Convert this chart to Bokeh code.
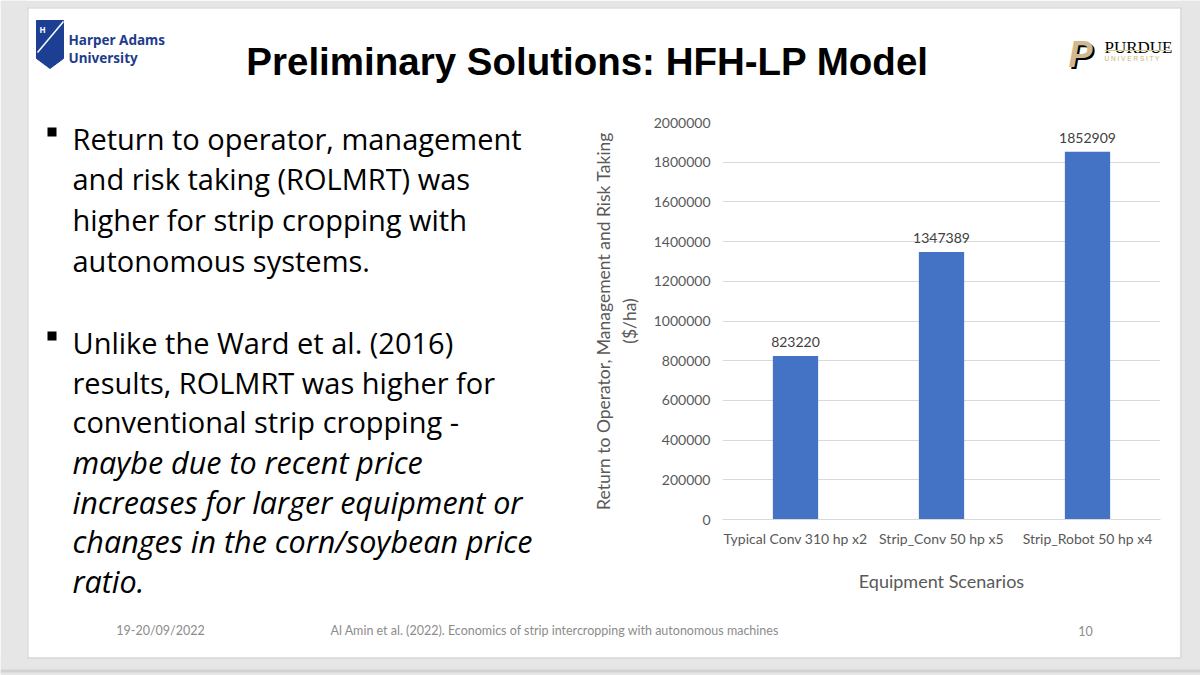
from bokeh.plotting import figure
from bokeh.models import (ColumnDataSource, Range1d, FactorRange, FixedTicker,
                          BasicTickFormatter, LabelSet)
from bokeh.core.properties import value
from bokeh.embed import file_html
from bokeh.resources import INLINE

# ---- data ----
scenarios = ["Typical Conv 310 hp x2", "Strip_Conv 50 hp x5", "Strip_Robot 50 hp x4"]
rolmrt = [823220, 1347389, 1852909]
rolmrt_text = ["823220", "1347389", "1852909"]
y_ticks = [0, 200000, 400000, 600000, 800000, 1000000, 1200000, 1400000, 1600000, 1800000, 2000000]

title_text = "Preliminary Solutions: HFH-LP Model"
bullet1 = ["Return to operator, management", "and risk taking (ROLMRT) was",
           "higher for strip cropping with", "autonomous systems."]
bullet2_normal = ["Unlike the Ward et al. (2016)", "results, ROLMRT was higher for",
                  "conventional strip cropping -"]
bullet2_italic = ["maybe due to recent price", "increases for larger equipment or",
                  "changes in the corn/soybean price", "ratio."]
footer_date = "19-20/09/2022"
footer_ref = "Al Amin et al. (2022). Economics of strip intercropping with autonomous machines"
footer_page = "10"

TXT = "#595959"
CHART_FONT = "Lato"
BODY_FONT = "Open Sans"
GRAY = "#e6e6e6"
EDGE = "#cfcfcf"

# ---------------- slide background (page coordinates, y downward) ----------------
S = figure(width=1200, height=675, x_range=Range1d(0, 1200), y_range=Range1d(675, 0),
           output_backend="svg", toolbar_location=None, x_axis_type=None, y_axis_type=None,
           min_border=0, min_border_left=0, min_border_right=0, min_border_top=0,
           min_border_bottom=0)
S.background_fill_color = "white"
S.border_fill_color = "white"
S.outline_line_color = None


def txt(x, y, t, size, font=BODY_FONT, color="black", style="normal", align="left",
        baseline="alphabetic"):
    S.text(x=[x], y=[y], text=[t], text_font=value(font), text_font_size=value(size),
           text_color=color, text_font_style=value(style), text_align=value(align),
           text_baseline=value(baseline))


def rect(l, r, t, b, color):
    S.quad(left=[l], right=[r], top=[t], bottom=[b], fill_color=color, line_color=None)


def seg(x0, y0, x1, y1, color=EDGE, w=1):
    S.segment(x0=[x0], y0=[y0], x1=[x1], y1=[y1], line_color=color, line_width=w)


# gray surround and slide edge
rect(0, 1200, 0, 7, GRAY)
rect(0, 27, 0, 675, GRAY)
rect(1180, 1200, 0, 675, GRAY)
rect(0, 1200, 657, 675, GRAY)
rect(0, 1200, 669, 672, "#d2d2d2")
seg(27, 7.5, 1180.5, 7.5)
seg(27, 657.5, 1180.5, 657.5)
seg(27.5, 7, 27.5, 657.5)
seg(1180.5, 7, 1180.5, 657.5)

# title
txt(587, 61, title_text, "38.5px", font="Liberation Sans", style="bold", align="center")

# Harper Adams logo
S.patch(x=[36, 63, 63, 49.5, 36], y=[20, 20, 58, 68, 58], fill_color="#1c3f94", line_color="#1c3f94")
seg(63, 21, 37, 52, color="white", w=1.5)
txt(39, 29, "H", "8px", font="Noto Sans", color="white", style="bold")
txt(68, 39.5, "Harper Adams", "13.5px", font="Noto Sans", color="#1f3d8c", style="bold")
txt(68, 57, "University", "13.5px", font="Noto Sans", color="#1f3d8c", style="bold")

# Purdue logo
txt(1070, 56, "P", "36px", font="Liberation Sans", color="black", style="bold italic")
txt(1068, 54, "P", "36px", font="Liberation Sans", color="#cfb991", style="bold italic")
txt(1104, 47, "PURDUE", "17px", font="Liberation Serif", color="black")
rect(1104, 1170, 49.5, 50.5, "#d8c98a")
txt(1104, 58, "U N I V E R S I T Y", "6.5px", font="Liberation Sans", color="#c8b575")

# bullets
for i, t in enumerate(bullet1):
    txt(72, 137.5 + i * 40.7, t, "29px")
rect(47, 56, 127, 136, "black")
lines2 = [(t, "normal", "29px") for t in bullet2_normal] + \
         [(t, "italic", "30.5px") for t in bullet2_italic]
for i, (t, s, fs) in enumerate(lines2):
    txt(72, 341.7 + i * 39.83, t, fs, style=s)
rect(47, 56, 331, 340, "black")

# footer
FC = "#8c8c8c"
txt(160, 630, footer_date, "12.5px", font="Lato", color=FC, align="center")
txt(330, 630, footer_ref, "12.5px", font="Lato", color=FC)
txt(1085, 630, footer_page, "12.5px", font="Lato", color=FC, align="center")

# ---------------- chart (overlaid at page x 590..1180, y 100..600) ----------------
source = ColumnDataSource(dict(x=scenarios, y=rolmrt, t=rolmrt_text))
C = figure(width=590, height=500, x_range=FactorRange(*scenarios), y_range=Range1d(0, 2000000),
           output_backend="svg", toolbar_location=None,
           min_border_left=132, min_border_right=20, min_border_top=22, min_border_bottom=81,
           styles={"position": "absolute", "left": "590px", "top": "100px"})
C.background_fill_alpha = 0
C.border_fill_alpha = 0
C.outline_line_color = None
C.vbar(x="x", top="y", width=0.31, source=source, fill_color="#4472C4", line_color=None)
C.add_layout(LabelSet(x="x", y="y", text="t", source=source, y_offset=9,
                      text_align="center", text_baseline="bottom",
                      text_font=value(CHART_FONT), text_font_size="14px",
                      text_color="#404040"))

C.yaxis.ticker = FixedTicker(ticks=y_ticks)
C.yaxis.formatter = BasicTickFormatter(use_scientific=False)
C.yaxis.axis_line_color = None
C.yaxis.major_tick_line_color = None
C.yaxis.minor_tick_line_color = None
C.yaxis.major_tick_out = 0
C.yaxis.major_tick_in = 0
C.yaxis.major_label_standoff = 12
C.yaxis.major_label_text_font = CHART_FONT
C.yaxis.major_label_text_font_size = "14px"
C.yaxis.major_label_text_color = TXT
C.yaxis.axis_label = "Return to Operator, Management and Risk Taking\n($/ha)"
C.yaxis.axis_label_text_font = CHART_FONT
C.yaxis.axis_label_text_font_size = "17.5px"
C.yaxis.axis_label_text_font_style = "normal"
C.yaxis.axis_label_text_color = TXT
C.yaxis.axis_label_standoff = 11

C.xaxis.axis_line_color = "#d9d9d9"
C.xaxis.major_tick_line_color = None
C.xaxis.major_tick_out = 0
C.xaxis.major_tick_in = 0
C.xaxis.major_label_standoff = 10
C.xaxis.major_label_text_font = CHART_FONT
C.xaxis.major_label_text_font_size = "14px"
C.xaxis.major_label_text_color = TXT
C.xaxis.axis_label = "Equipment Scenarios"
C.xaxis.axis_label_text_font = CHART_FONT
C.xaxis.axis_label_text_font_size = "18px"
C.xaxis.axis_label_text_font_style = "normal"
C.xaxis.axis_label_text_color = TXT
C.xaxis.axis_label_standoff = 20

C.xgrid.grid_line_color = None
C.ygrid.grid_line_color = "#d9d9d9"

open("out.html", "w").write(file_html([S, C], INLINE))
